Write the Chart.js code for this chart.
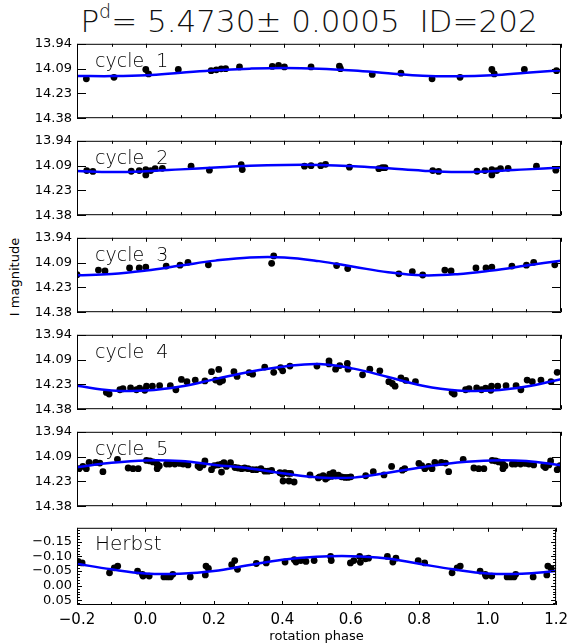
<!DOCTYPE html>
<html>
<head>
<meta charset="utf-8">
<script src="https://cdn.jsdelivr.net/npm/chart.js@4.4.1/dist/chart.umd.min.js"></script>
<style>
  body { margin: 0; background: #fff; }
  #wrap { position: relative; width: 574px; height: 644px; font-family: "DejaVu Sans", sans-serif; color: #000; overflow: hidden; }
  #wrap canvas { position: absolute; left: 0; }
  #title { position: absolute; left: 42px; width: 534px; top: 3px; text-align: center; font-size: 31px; font-weight: 200; line-height: 36px; white-space: pre; color: #111; }
  #title sup { font-size: 19px; line-height: 0; position: relative; top: -3px; }
  #ylab { position: absolute; left: 14px; top: 277px; font-size: 13px; transform: translate(-50%, -50%) rotate(-90deg); white-space: nowrap; }
</style>
</head>
<body>
<div id="wrap">
  <div id="title">P<sup>d</sup>= 5.4730± 0.0005  ID=202</div>
  <div id="ylab">I magnitude</div>
  <canvas id="p1" width="574" height="100"></canvas>
  <canvas id="p2" width="574" height="100"></canvas>
  <canvas id="p3" width="574" height="100"></canvas>
  <canvas id="p4" width="574" height="100"></canvas>
  <canvas id="p5" width="574" height="100"></canvas>
  <canvas id="p6" width="574" height="129"></canvas>
</div>
<script>
const fitPhase = [-0.2, -0.1, 0.0, 0.1, 0.2, 0.3, 0.4, 0.5, 0.6, 0.7, 0.8, 0.9, 1.0, 1.1, 1.2];

const c1Phase = [-0.173, -0.093, -0.001, 0.007, 0.093, 0.188, 0.203, 0.217, 0.230, 0.270, 0.365, 0.383, 0.400, 0.477, 0.559, 0.562, 0.654, 0.737, 0.827, 0.908, 1.000, 1.007, 1.094, 1.187];
const c1Mag = [14.147, 14.138, 14.092, 14.118, 14.092, 14.099, 14.094, 14.088, 14.087, 14.077, 14.074, 14.068, 14.077, 14.077, 14.072, 14.087, 14.121, 14.114, 14.147, 14.138, 14.092, 14.118, 14.092, 14.099];
const c1Fit = [14.130, 14.131, 14.126, 14.111, 14.096, 14.087, 14.083, 14.087, 14.098, 14.114, 14.129, 14.132, 14.126, 14.111, 14.096];

const c2Phase = [-0.172, -0.154, -0.043, -0.020, -0.001, -0.001, 0.013, 0.026, 0.047, 0.130, 0.183, 0.275, 0.278, 0.458, 0.477, 0.505, 0.519, 0.588, 0.673, 0.683, 0.691, 0.829, 0.846, 0.957, 0.980, 1.000, 1.000, 1.014, 1.025, 1.047, 1.129, 1.185];
const c2Mag = [14.116, 14.121, 14.120, 14.116, 14.110, 14.142, 14.116, 14.105, 14.103, 14.090, 14.114, 14.081, 14.110, 14.090, 14.087, 14.087, 14.079, 14.096, 14.105, 14.099, 14.099, 14.116, 14.121, 14.120, 14.116, 14.110, 14.142, 14.116, 14.105, 14.103, 14.090, 14.114];
const c2Fit = [14.118, 14.125, 14.120, 14.109, 14.098, 14.088, 14.083, 14.083, 14.090, 14.103, 14.117, 14.125, 14.120, 14.109, 14.098];

const c3Phase = [-0.200, -0.138, -0.119, -0.048, -0.020, -0.001, 0.058, 0.098, 0.121, 0.180, 0.363, 0.369, 0.551, 0.583, 0.731, 0.770, 0.800, 0.864, 0.882, 0.954, 0.983, 1.000, 1.058, 1.100, 1.121, 1.182];
const c3Mag = [14.158, 14.131, 14.136, 14.118, 14.118, 14.113, 14.107, 14.102, 14.085, 14.100, 14.091, 14.047, 14.104, 14.122, 14.153, 14.140, 14.160, 14.131, 14.136, 14.118, 14.118, 14.113, 14.107, 14.102, 14.085, 14.100];
const c3Fit = [14.162, 14.154, 14.133, 14.104, 14.075, 14.056, 14.056, 14.078, 14.111, 14.144, 14.162, 14.155, 14.133, 14.104, 14.075];

const c4Phase = [-0.115, -0.107, -0.076, -0.067, -0.045, -0.028, -0.019, -0.004, 0.001, 0.018, 0.039, 0.070, 0.086, 0.102, 0.118, 0.142, 0.170, 0.189, 0.201, 0.210, 0.213, 0.221, 0.254, 0.263, 0.298, 0.308, 0.343, 0.369, 0.389, 0.395, 0.416, 0.494, 0.529, 0.529, 0.548, 0.560, 0.582, 0.584, 0.626, 0.647, 0.676, 0.702, 0.712, 0.720, 0.737, 0.751, 0.779, 0.885, 0.891, 0.924, 0.934, 0.956, 0.970, 0.982, 0.997, 0.999, 1.017, 1.041, 1.070, 1.084, 1.102, 1.117, 1.142, 1.171, 1.189];
const c4Mag = [14.281, 14.290, 14.265, 14.259, 14.254, 14.265, 14.255, 14.268, 14.244, 14.244, 14.241, 14.241, 14.265, 14.204, 14.217, 14.208, 14.213, 14.158, 14.208, 14.145, 14.219, 14.210, 14.158, 14.186, 14.164, 14.173, 14.131, 14.162, 14.134, 14.153, 14.125, 14.125, 14.094, 14.112, 14.143, 14.122, 14.109, 14.143, 14.177, 14.143, 14.153, 14.217, 14.228, 14.244, 14.195, 14.210, 14.217, 14.281, 14.290, 14.265, 14.259, 14.254, 14.265, 14.255, 14.268, 14.244, 14.244, 14.241, 14.241, 14.265, 14.208, 14.217, 14.208, 14.217, 14.162];
const c4Fit = [14.241, 14.269, 14.270, 14.246, 14.202, 14.158, 14.127, 14.113, 14.140, 14.190, 14.241, 14.269, 14.270, 14.246, 14.202];

const c5Phase = [-0.194, -0.183, -0.173, -0.165, -0.146, -0.134, -0.125, -0.083, -0.052, -0.038, -0.023, 0.001, 0.011, 0.020, 0.032, 0.038, 0.032, 0.059, 0.068, 0.083, 0.097, 0.107, 0.121, 0.150, 0.155, 0.165, 0.170, 0.189, 0.197, 0.208, 0.218, 0.218, 0.225, 0.232, 0.244, 0.257, 0.266, 0.276, 0.285, 0.295, 0.308, 0.319, 0.332, 0.343, 0.353, 0.363, 0.387, 0.394, 0.401, 0.411, 0.418, 0.396, 0.413, 0.428, 0.474, 0.498,
  0.502, 0.512, 0.519, 0.525, 0.531, 0.536, 0.541, 0.548, 0.556, 0.565, 0.575, 0.584, 0.592, 0.635, 0.657, 0.688, 0.710, 0.741, 0.748, 0.789, 0.797,
  0.806, 0.817, 0.827, 0.835, 0.854, 0.866, 0.875, 0.917, 0.948, 0.962, 0.977, 1.001, 1.011, 1.020, 1.032, 1.038, 1.032, 1.059, 1.068, 1.083, 1.097, 1.107, 1.121, 1.150, 1.155, 1.165, 1.170, 1.189, 1.197];
const c5Mag = [14.158, 14.145, 14.158, 14.121, 14.121, 14.125, 14.176, 14.103, 14.154, 14.158, 14.158, 14.109, 14.112, 14.118, 14.132, 14.142, 14.158, 14.131, 14.131, 14.131, 14.127, 14.131, 14.136, 14.142, 14.151, 14.136, 14.112, 14.164, 14.140, 14.136, 14.131, 14.178, 14.123, 14.145, 14.123, 14.151, 14.154, 14.158, 14.154, 14.158, 14.164, 14.164, 14.158, 14.173, 14.173, 14.169, 14.182, 14.191, 14.182, 14.186, 14.186, 14.231, 14.231, 14.237, 14.195, 14.213,
  14.206, 14.200, 14.219, 14.210, 14.191, 14.204, 14.182, 14.200, 14.197, 14.206, 14.210, 14.210, 14.206, 14.200, 14.176, 14.195, 14.145, 14.167, 14.158, 14.127, 14.140,
  14.158, 14.145, 14.158, 14.121, 14.121, 14.125, 14.176, 14.103, 14.154, 14.158, 14.158, 14.109, 14.112, 14.118, 14.132, 14.142, 14.158, 14.131, 14.131, 14.131, 14.127, 14.131, 14.136, 14.142, 14.151, 14.136, 14.112, 14.164, 14.140];
const c5Fit = [14.149, 14.123, 14.109, 14.113, 14.136, 14.157, 14.187, 14.210, 14.211, 14.182, 14.149, 14.122, 14.109, 14.113, 14.138];

const hPhase = [-0.197, -0.185, -0.105, -0.091, -0.081, -0.023, -0.009, -0.007, 0.011, 0.054, 0.064, 0.073, 0.080, 0.131, 0.175, 0.177, 0.184, 0.252, 0.261, 0.269, 0.324, 0.353, 0.355, 0.408, 0.435, 0.440, 0.454, 0.469, 0.493, 0.541, 0.543, 0.599, 0.609, 0.626, 0.628, 0.643, 0.652, 0.707, 0.723, 0.732, 0.797, 0.816, 0.896, 0.911, 0.920, 0.978, 0.993, 0.995, 1.012, 1.057, 1.067, 1.077, 1.082, 1.133, 1.173, 1.176, 1.186];
const hVal = [-0.083, -0.078, -0.044, -0.061, -0.067, -0.050, -0.039, -0.033, -0.033, -0.030, -0.030, -0.030, -0.039, -0.030, -0.037, -0.067, -0.059, -0.072, -0.086, -0.056, -0.076, -0.078, -0.091, -0.081, -0.089, -0.081, -0.086, -0.083, -0.086, -0.100, -0.086, -0.078, -0.086, -0.100, -0.080, -0.092, -0.094, -0.100, -0.081, -0.094, -0.086, -0.078, -0.044, -0.061, -0.067, -0.050, -0.039, -0.033, -0.033, -0.030, -0.030, -0.030, -0.039, -0.030, -0.037, -0.067, -0.059];
const hFit = [-0.075, -0.056, -0.042, -0.041, -0.050, -0.070, -0.089, -0.099, -0.101, -0.094, -0.075, -0.056, -0.042, -0.041, -0.050];

// axes
const xTickValues = [-0.2, 0.0, 0.2, 0.4, 0.6, 0.8, 1.0, 1.2];
const xTickLabels = ["\u22120.2", "0.0", "0.2", "0.4", "0.6", "0.8", "1.0", "1.2"];
const xMinorTicks = [-0.1, 0.1, 0.3, 0.5, 0.7, 0.9, 1.1];
const magTickValues = [13.94, 14.0867, 14.2333, 14.38];
const magTickLabels = ["13.94", "14.09", "14.23", "14.38"];
const hTickValues = [-0.15, -0.10, -0.05, 0.00, 0.05];
const hTickLabels = ["\u22120.15", "\u22120.10", "\u22120.05", "0.00", "0.05"];
const hMinorTicks = [-0.19, -0.18, -0.17, -0.16, -0.14, -0.13, -0.12, -0.11, -0.09, -0.08, -0.07, -0.06, -0.04, -0.03, -0.02, -0.01, 0.01, 0.02, 0.03, 0.04, 0.06];

const panelTops = [41, 138, 235, 332, 429, 525];

Chart.defaults.font.family = '"DejaVu Sans", sans-serif';
Chart.defaults.color = "#000";

// box, inward ticks and panel name
const framePlugin = {
  id: "frame",
  afterDatasetsDraw(chart, args, o) {
    const { ctx, chartArea: a, scales } = chart;
    const x = scales.x, y = scales.y;
    ctx.save();
    ctx.strokeStyle = "#000";
    ctx.lineWidth = 1;
    ctx.beginPath();
    ctx.rect(a.left + 0.5, a.top + 0.5, a.right - a.left - 1, a.bottom - a.top - 1);
    const xt = (v, len) => {
      const px = Math.round(x.getPixelForValue(v)) + 0.5;
      ctx.moveTo(px, a.top); ctx.lineTo(px, a.top + len);
      ctx.moveTo(px, a.bottom); ctx.lineTo(px, a.bottom - len);
    };
    const yt = (v, len) => {
      const py = Math.round(y.getPixelForValue(v)) + 0.5;
      ctx.moveTo(a.left, py); ctx.lineTo(a.left + len, py);
      ctx.moveTo(a.right, py); ctx.lineTo(a.right - len, py);
    };
    xTickValues.forEach((v) => xt(v, 4));
    xMinorTicks.forEach((v) => xt(v, 3));
    o.yMajor.forEach((v) => yt(v, o.majorLen));
    (o.yMinor || []).forEach((v) => yt(v, 3));
    ctx.stroke();
    ctx.fillStyle = "#000";
    ctx.font = '200 ' + o.labelSize + 'px "DejaVu Sans"';
    ctx.textBaseline = "alphabetic";
    ctx.fillText(o.label, a.left + 18, a.top + o.labelDy);
    ctx.restore();
  },
};

function zip(xs, ys) {
  return xs.map((v, i) => ({ x: v, y: ys[i] }));
}

function makePanel(idx, p) {
  const cv = document.getElementById("p" + (idx + 1));
  cv.style.top = panelTops[idx] - 10 + "px";
  const last = idx === 5;
  new Chart(cv, {
    type: "scatter",
    data: {
      datasets: [
        {
          data: zip(fitPhase, p.fit),
          showLine: true,
          borderColor: "#0000ff",
          borderWidth: 2.5,
          pointRadius: 0,
          tension: 0.4,
        },
        {
          data: zip(p.phase, p.mag),
          pointRadius: 3.4,
          pointBorderWidth: 0,
          backgroundColor: "#000",
          borderColor: "#000",
        },
      ],
    },
    options: {
      responsive: false,
      animation: false,
      devicePixelRatio: 1,
      layout: { padding: { left: 0, right: 13, top: 10, bottom: last ? 0 : 10 } },
      plugins: {
        legend: { display: false },
        tooltip: { enabled: false },
        frame: p.frame,
      },
      scales: {
        x: {
          type: "linear",
          min: -0.2,
          max: 1.2,
          display: last,
          afterBuildTicks: (s) => { s.ticks = xTickValues.map((v) => ({ value: v })); },
          afterFit: (s) => { s.height = last ? 39 : 0; },
          grid: { display: false, drawTicks: false },
          border: { display: false },
          ticks: {
            autoSkip: false,
            maxRotation: 0,
            padding: 6,
            font: { size: 15 },
            callback: (v, i) => xTickLabels[i],
          },
          title: {
            display: true,
            text: "rotation phase",
            font: { size: 13 },
            padding: { top: 2, bottom: 0 },
          },
        },
        y: {
          type: "linear",
          reverse: true,
          min: p.ymin,
          max: p.ymax,
          afterBuildTicks: (s) => { s.ticks = p.ticks.map((v) => ({ value: v })); },
          afterFit: (s) => { s.width = 77; },
          grid: { display: false, drawTicks: false },
          border: { display: false },
          ticks: {
            padding: 5,
            font: { size: 13 },
            callback: (v, i) => p.labels[i],
          },
        },
      },
    },
    plugins: [framePlugin],
  });
}

const cycles = [
  [c1Phase, c1Mag, c1Fit, "cycle  1"],
  [c2Phase, c2Mag, c2Fit, "cycle  2"],
  [c3Phase, c3Mag, c3Fit, "cycle  3"],
  [c4Phase, c4Mag, c4Fit, "cycle  4"],
  [c5Phase, c5Mag, c5Fit, "cycle  5"],
];

cycles.forEach((c, i) => {
  makePanel(i, {
    phase: c[0], mag: c[1], fit: c[2],
    ymin: 13.94, ymax: 14.38,
    ticks: magTickValues, labels: magTickLabels,
    frame: { label: c[3], labelSize: 19, labelDy: 23, yMajor: magTickValues, majorLen: 9 },
  });
});

makePanel(5, {
  phase: hPhase, mag: hVal, fit: hFit,
  ymin: -0.198, ymax: 0.066,
  ticks: hTickValues, labels: hTickLabels,
  frame: { label: "Herbst", labelSize: 20, labelDy: 22, yMajor: hTickValues, yMinor: hMinorTicks, majorLen: 5 },
});
</script>
</body>
</html>
